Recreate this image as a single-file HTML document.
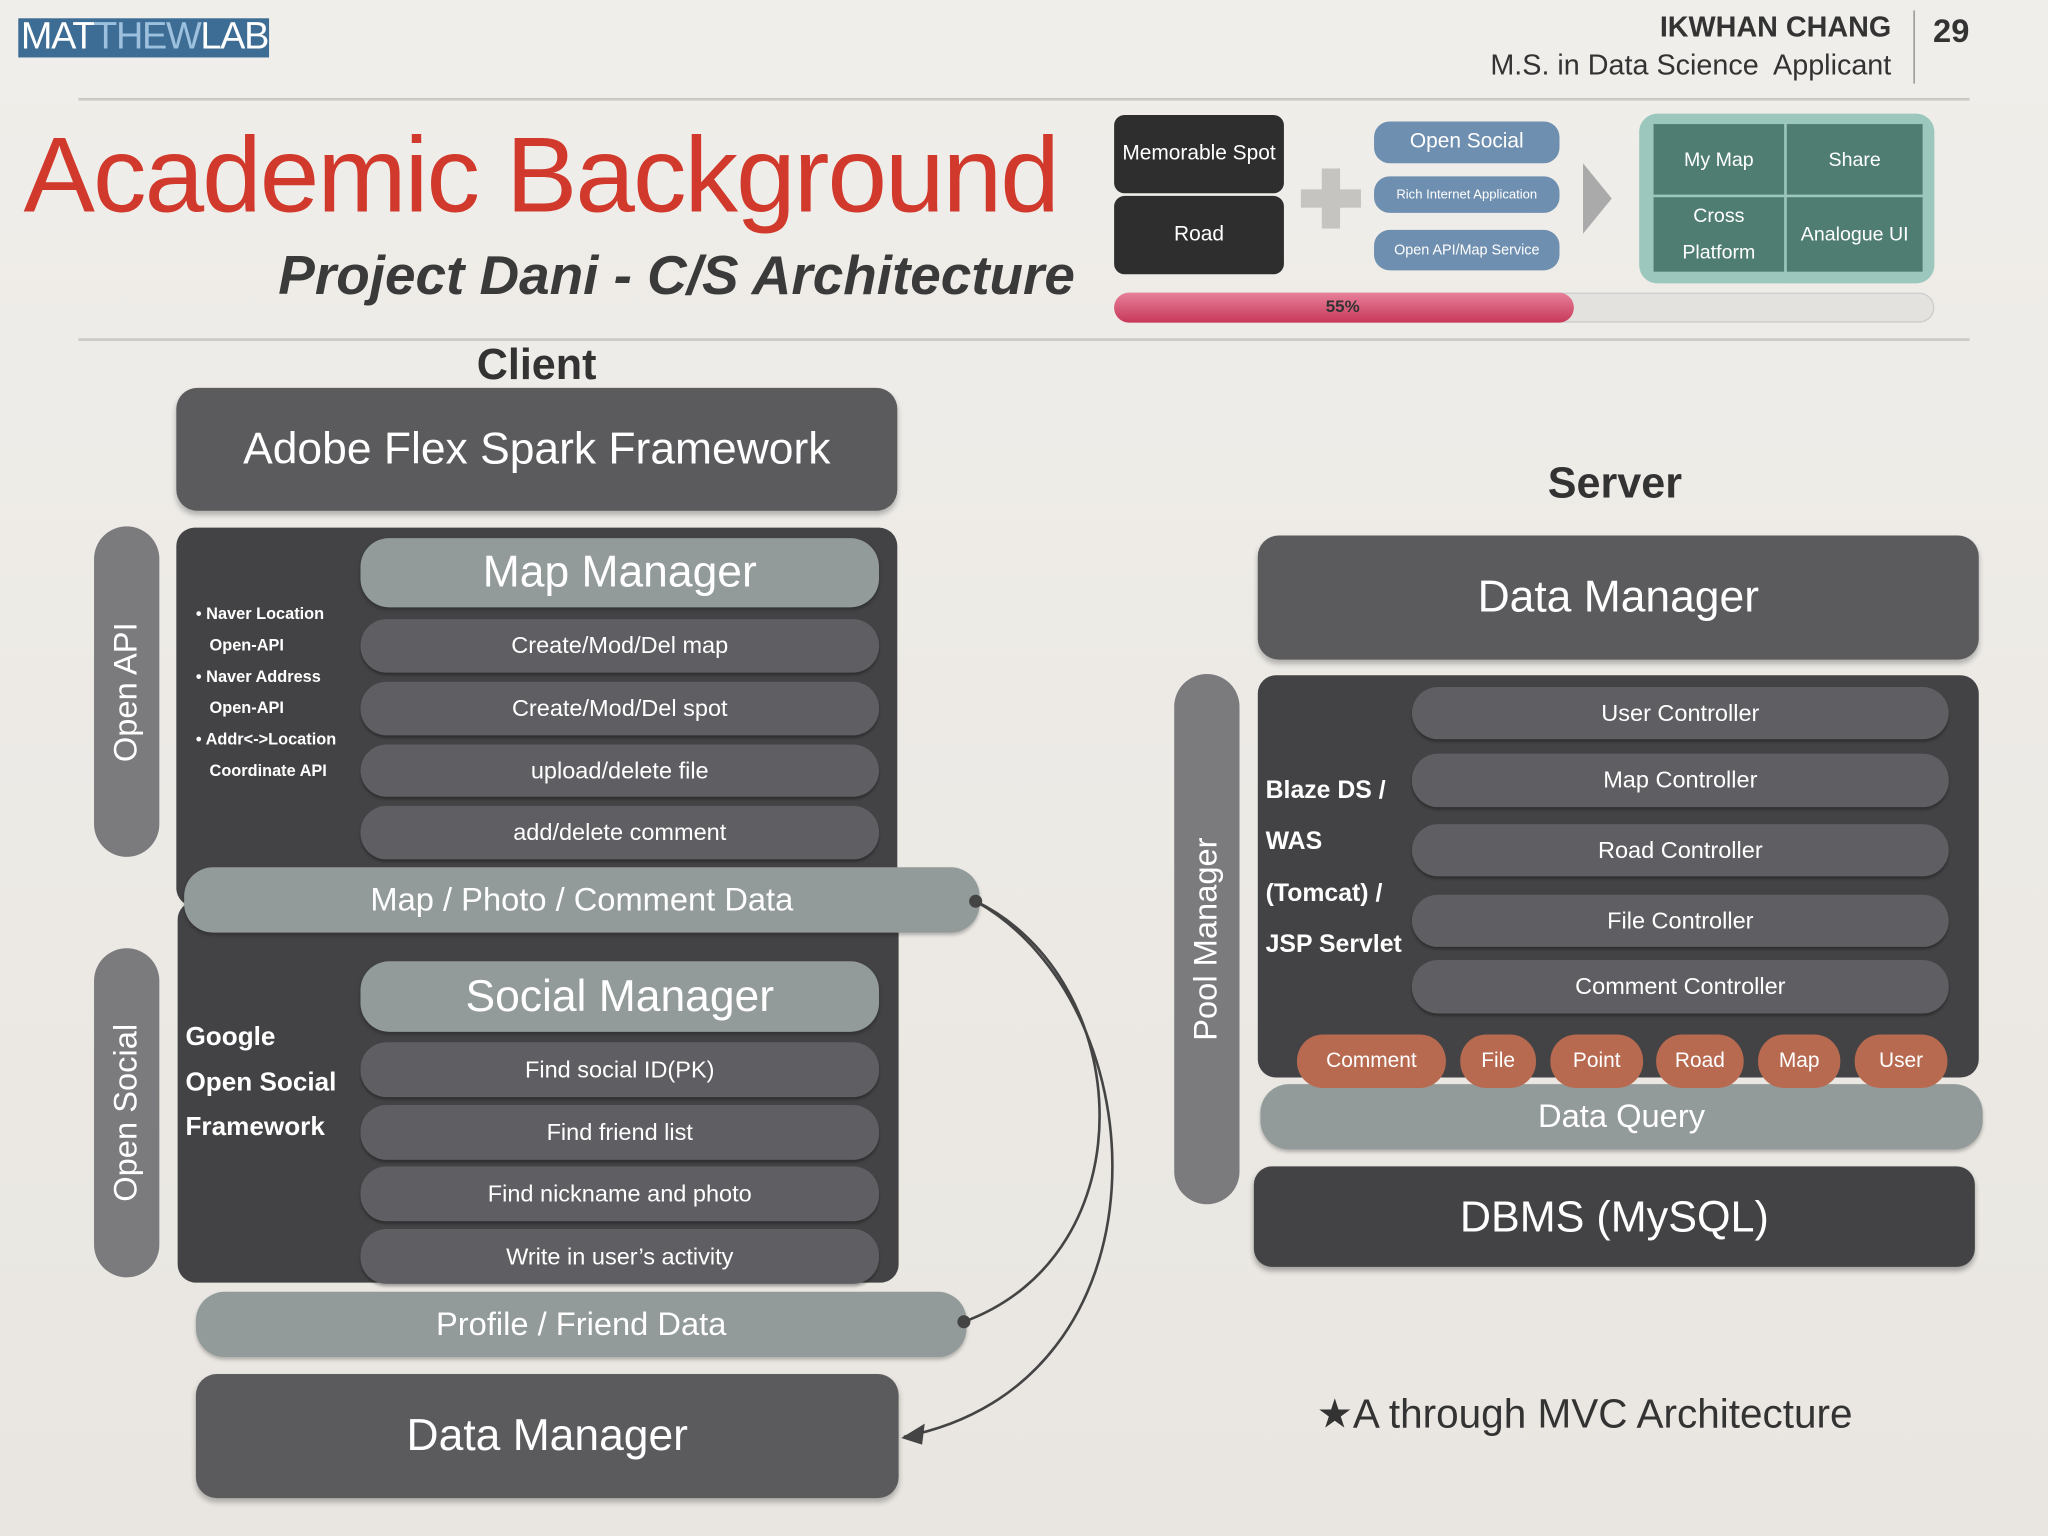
<!DOCTYPE html>
<html><head><meta charset="utf-8"><style>
html,body{margin:0;padding:0;width:2048px;height:1536px;overflow:hidden;background:#eeebe7;}
#s{position:absolute;left:0;top:0;width:1568px;height:1176px;transform:scale(1.30612);transform-origin:0 0;font-family:"Liberation Sans",sans-serif;background:linear-gradient(#f0eeea,#e9e6e1);}
.a{position:absolute;box-sizing:border-box;}
.c{display:flex;align-items:center;justify-content:center;text-align:center;color:#fff;}
.dk{background:#434345;border-radius:14px;}
.md{background:#5b5b5e;border-radius:16px;box-shadow:0 3px 4px rgba(0,0,0,.25);}
.lt{background:#939b9a;border-radius:22px;box-shadow:0 2px 3px rgba(0,0,0,.25);}
.it{background:#5f5f63;border-radius:20px;font-size:18px;box-shadow:0 2px 2px rgba(0,0,0,.3);}
.vp{background:#7b7b7e;border-radius:25px;}
.vt{position:absolute;left:50%;top:50%;transform:translate(-50%,-50%) rotate(-90deg);white-space:nowrap;color:#fff;font-size:25px;}
.or{background:#b86a50;border-radius:20px;font-size:16px;}
.bl{background:#6f8fb0;border-radius:12px;}
.g{background:#4f7d72;font-size:15px;}
</style></head><body><div id="s">
<div class="a" style="left:14px;top:14px;width:192px;height:30px;background:#3d6d94;"></div>
<div class="a" style="left:16px;top:12px;font-size:29px;color:#fff;letter-spacing:-1px;">MAT<span style="color:#9cc0de">THEW</span>LAB</div>
<div class="a" style="right:120px;top:8px;font-size:22px;color:#333;font-weight:bold;text-align:right;">IKWHAN CHANG</div>
<div class="a" style="right:120px;top:37px;font-size:22px;color:#333;text-align:right;">M.S. in Data Science&nbsp; Applicant</div>
<div class="a" style="left:1465px;top:8px;width:1px;height:56px;background:#888;"></div>
<div class="a" style="left:1480px;top:10px;font-size:25px;font-weight:bold;color:#333;">29</div>
<div class="a" style="left:60px;top:75px;width:1448px;height:2px;background:#ccc9c4;"></div>
<div class="a" style="left:60px;top:259px;width:1448px;height:2px;background:#ccc9c4;"></div>
<div class="a" style="left:18px;top:88px;font-size:82px;color:#d0392b;white-space:nowrap;letter-spacing:-1.5px;">Academic Background</div>
<div class="a" style="left:150px;width:673px;top:187px;font-size:42px;font-style:italic;font-weight:bold;color:#3a3a3a;text-align:right;white-space:nowrap;">Project Dani - C/S Architecture</div>

<div class="a c" style="left:853px;top:88px;width:130px;height:60px;background:#2e2e2f;border-radius:8px;font-size:16px;">Memorable Spot</div>
<div class="a c" style="left:853px;top:150px;width:130px;height:60px;background:#2e2e2f;border-radius:8px;font-size:16px;">Road</div>
<div class="a" style="left:996px;top:145px;width:46px;height:14px;background:#c6c4c1;"></div>
<div class="a" style="left:1012px;top:129px;width:14px;height:46px;background:#c6c4c1;"></div>
<div class="a c bl" style="left:1052px;top:93px;width:142px;height:32px;font-size:16px;">Open Social</div>
<div class="a c bl" style="left:1052px;top:135px;width:142px;height:28px;font-size:10px;">Rich Internet Application</div>
<div class="a c bl" style="left:1052px;top:176px;width:142px;height:31px;font-size:11px;">Open API/Map Service</div>
<div class="a" style="left:1212px;top:125px;width:0;height:0;border-top:27px solid transparent;border-bottom:27px solid transparent;border-left:22px solid #aaa;"></div>
<div class="a" style="left:1255px;top:87px;width:226px;height:130px;background:#9cc7bd;border-radius:14px;"></div>
<div class="a c g" style="left:1266px;top:95px;width:100px;height:54px;">My Map</div>
<div class="a c g" style="left:1368px;top:95px;width:104px;height:54px;">Share</div>
<div class="a c g" style="left:1266px;top:151px;width:100px;height:57px;line-height:28px;">Cross<br>Platform</div>
<div class="a c g" style="left:1368px;top:151px;width:104px;height:57px;">Analogue UI</div>
<div class="a" style="left:853px;top:224px;width:628px;height:23px;background:#e4e2df;border:1px solid #ccc;border-radius:12px;"></div>
<div class="a" style="left:853px;top:224px;width:352px;height:23px;background:linear-gradient(#e7809a,#c8385a);border-radius:12px;"></div>
<div class="a" style="left:1015px;top:227px;font-size:13px;font-weight:bold;color:#333;">55%</div>

<div class="a" style="left:365px;top:260px;font-size:33px;font-weight:bold;color:#333;">Client</div>
<div class="a c md" style="left:135px;top:297px;width:552px;height:94px;font-size:34px;">Adobe Flex Spark Framework</div>
<div class="a vp" style="left:72px;top:403px;width:50px;height:253px;"><div class="vt">Open API</div></div>
<div class="a dk" style="left:135px;top:404px;width:552px;height:290px;"></div>
<div class="a" style="left:150px;top:458px;font-size:12.5px;font-weight:bold;color:#fff;line-height:24px;">• Naver Location<br>&nbsp;&nbsp;&nbsp;Open-API<br>• Naver Address<br>&nbsp;&nbsp;&nbsp;Open-API<br>• Addr&lt;-&gt;Location<br>&nbsp;&nbsp;&nbsp;Coordinate API</div>
<div class="a c lt" style="left:276px;top:412px;width:397px;height:53px;font-size:34px;">Map Manager</div>
<div class="a c it" style="left:276px;top:474px;width:397px;height:41px;">Create/Mod/Del map</div>
<div class="a c it" style="left:276px;top:522px;width:397px;height:41px;">Create/Mod/Del spot</div>
<div class="a c it" style="left:276px;top:570px;width:397px;height:40px;">upload/delete file</div>
<div class="a c it" style="left:276px;top:617px;width:397px;height:41px;">add/delete comment</div>
<div class="a dk" style="left:136px;top:690px;width:552px;height:292px;"></div>
<div class="a c lt" style="left:141px;top:664px;width:609px;height:50px;font-size:25px;">Map / Photo / Comment Data</div>
<div class="a vp" style="left:72px;top:726px;width:50px;height:252px;"><div class="vt">Open Social</div></div>
<div class="a" style="left:142px;top:777px;font-size:20px;font-weight:bold;color:#fff;line-height:34.5px;">Google<br>Open Social<br>Framework</div>
<div class="a c lt" style="left:276px;top:736px;width:397px;height:54px;font-size:34px;">Social Manager</div>
<div class="a c it" style="left:276px;top:798px;width:397px;height:42px;">Find social ID(PK)</div>
<div class="a c it" style="left:276px;top:846px;width:397px;height:42px;">Find friend list</div>
<div class="a c it" style="left:276px;top:893px;width:397px;height:42px;">Find nickname and photo</div>
<div class="a c it" style="left:276px;top:941px;width:397px;height:42px;">Write in user’s activity</div>
<div class="a c lt" style="left:150px;top:989px;width:590px;height:50px;font-size:25px;">Profile / Friend Data</div>
<div class="a c md" style="left:150px;top:1052px;width:538px;height:95px;font-size:34px;">Data Manager</div>
<svg class="a" style="left:0;top:0" width="1568" height="1176">
<path d="M747 690 C 870 750, 880 960, 738 1012" fill="none" stroke="#444" stroke-width="2"/>
<path d="M747 690 C 890 770, 900 1060, 692 1100" fill="none" stroke="#444" stroke-width="2"/>
<polygon points="690,1101 708,1090 706,1106" fill="#444"/>
<circle cx="747" cy="690" r="5" fill="#444"/><circle cx="738" cy="1012" r="5" fill="#444"/>
</svg>

<div class="a" style="left:1185px;top:351px;font-size:33px;font-weight:bold;color:#333;">Server</div>
<div class="a c md" style="left:963px;top:410px;width:552px;height:95px;font-size:34px;">Data Manager</div>
<div class="a vp" style="left:899px;top:516px;width:50px;height:406px;"><div class="vt">Pool Manager</div></div>
<div class="a dk" style="left:963px;top:517px;width:552px;height:308px;"></div>
<div class="a" style="left:969px;top:586px;font-size:19px;font-weight:bold;color:#fff;line-height:39.3px;">Blaze DS /<br>WAS<br>(Tomcat) /<br>JSP Servlet</div>
<div class="a c it" style="left:1081px;top:526px;width:411px;height:40px;">User Controller</div>
<div class="a c it" style="left:1081px;top:577px;width:411px;height:41px;">Map Controller</div>
<div class="a c it" style="left:1081px;top:631px;width:411px;height:40px;">Road Controller</div>
<div class="a c it" style="left:1081px;top:685px;width:411px;height:40px;">File Controller</div>
<div class="a c it" style="left:1081px;top:735px;width:411px;height:41px;">Comment Controller</div>
<div class="a c lt" style="left:965px;top:830px;width:553px;height:50px;font-size:25px;">Data Query</div>
<div class="a c or" style="left:993px;top:792px;width:114px;height:41px;">Comment</div>
<div class="a c or" style="left:1118px;top:792px;width:58px;height:41px;">File</div>
<div class="a c or" style="left:1187px;top:792px;width:71px;height:41px;">Point</div>
<div class="a c or" style="left:1268px;top:792px;width:67px;height:41px;">Road</div>
<div class="a c or" style="left:1346px;top:792px;width:63px;height:41px;">Map</div>
<div class="a c or" style="left:1420px;top:792px;width:71px;height:41px;">User</div>
<div class="a c dk" style="left:960px;top:893px;width:552px;height:77px;font-size:33px;box-shadow:0 3px 4px rgba(0,0,0,.3);">DBMS (MySQL)</div>
<div class="a" style="left:1008px;top:1065px;font-size:31px;color:#333;white-space:nowrap;">★A through MVC Architecture</div>
</div></body></html>
